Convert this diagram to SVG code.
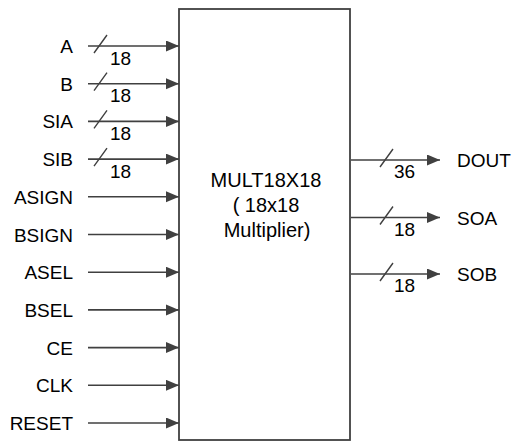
<svg xmlns="http://www.w3.org/2000/svg" width="517" height="442" viewBox="0 0 517 442">
<defs>
<marker id="ah" markerUnits="userSpaceOnUse" markerWidth="14" markerHeight="12" refX="13" refY="5.5" orient="auto">
<path d="M0,0 L13,5.5 L0,11 z" fill="#404040"/>
</marker>
<style>
.c{stroke:#404040;stroke-width:1.6;fill:none;marker-end:url(#ah)}
.s{stroke:#404040;stroke-width:1.4;fill:none}
.t{font-family:"Liberation Sans",Arial,sans-serif;font-size:19px;fill:#000}
.l{text-anchor:end}
.n{font-family:"Liberation Sans",Arial,sans-serif;font-size:19px;fill:#000}
.m{font-family:"Liberation Sans",Arial,sans-serif;font-size:20px;fill:#000;text-anchor:middle}
</style>
</defs>
<g id="mult">
<rect x="179" y="9" width="171" height="431" fill="#fff" stroke="#404040" stroke-width="1.8"/>
<text class="m" x="266" y="187">MULT18X18</text>
<text class="m" x="266" y="212">( 18x18</text>
<text class="m" x="267" y="237">Multiplier)</text>
</g>
<g id="connectors">
<path class="c" d="M88,46 H179"/>
<path class="c" d="M88,83.7 H179"/>
<path class="c" d="M88,121.4 H179"/>
<path class="c" d="M88,159.1 H179"/>
<path class="c" d="M88,196.8 H179"/>
<path class="c" d="M88,234.5 H179"/>
<path class="c" d="M88,272.2 H179"/>
<path class="c" d="M88,309.9 H179"/>
<path class="c" d="M88,347.6 H179"/>
<path class="c" d="M88,385.3 H179"/>
<path class="c" d="M88,423 H179"/>
<path class="c" d="M351,160 H440"/>
<path class="c" d="M351,217.5 H440"/>
<path class="c" d="M351,274 H440"/>
<path class="s" d="M94,53 L107,35 M94,90.7 L107,72.7 M94,128.4 L107,110.4 M94,166.1 L107,148.1"/>
<path class="s" d="M380,167 L393,149 M380,224.5 L393,206.5 M380,281 L393,263"/>
</g>
<g id="labels">
<text class="t l" x="73" y="53">A</text>
<text class="t l" x="73" y="90.7">B</text>
<text class="t l" x="73" y="128.4">SIA</text>
<text class="t l" x="73" y="166.1">SIB</text>
<text class="t l" x="73" y="203.8">ASIGN</text>
<text class="t l" x="73" y="241.5">BSIGN</text>
<text class="t l" x="73" y="279.2">ASEL</text>
<text class="t l" x="73" y="316.9">BSEL</text>
<text class="t l" x="73" y="354.6">CE</text>
<text class="t l" x="73" y="392.3">CLK</text>
<text class="t l" x="73" y="430">RESET</text>
<text class="n" x="110" y="64.5">18</text>
<text class="n" x="110" y="102.2">18</text>
<text class="n" x="110" y="139.9">18</text>
<text class="n" x="110" y="177.6">18</text>
<text class="n" x="394" y="178">36</text>
<text class="n" x="394" y="235.5">18</text>
<text class="n" x="394" y="292">18</text>
<text class="t" x="457" y="167">DOUT</text>
<text class="t" x="457" y="224.5">SOA</text>
<text class="t" x="457" y="281">SOB</text>
</g>
</svg>
